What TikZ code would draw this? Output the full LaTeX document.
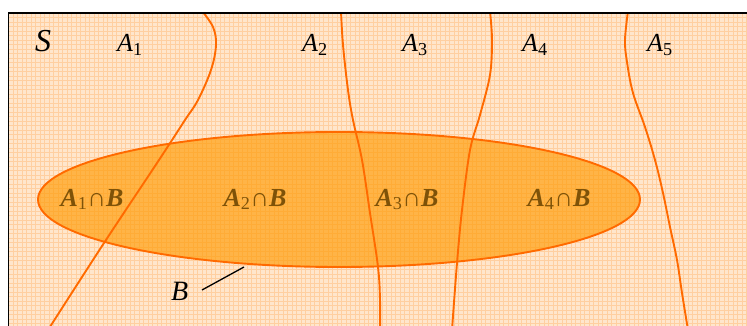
\documentclass[tikz,border=0pt]{standalone}
\usepackage{fontspec}
\setmainfont{Liberation Serif}
\definecolor{bgc}{HTML}{FFE6CC}
\definecolor{gridc}{HTML}{FFCFA0}
\definecolor{curvec}{HTML}{FF6A00}
\definecolor{ellc}{HTML}{FF9A00}
\definecolor{txtc}{HTML}{7E5208}
\tikzset{
  boundary/.style={draw=curvec, line width=1.9pt},
  lbl/.style={font=\fontsize{26}{28}\selectfont\itshape, anchor=base west, inner sep=0pt},
  inlbl/.style={font=\fontsize{26}{28}\selectfont\bfseries\itshape, text=txtc, anchor=base, inner sep=0pt},
}
\begin{document}
\begin{tikzpicture}[x=1pt,y=-1pt]
\useasboundingbox (0,0) rectangle (747,326);
\begin{scope}
\clip (8.5,13) rectangle (760,340);
\fill[bgc] (8.5,13) rectangle (760,340);
\foreach \i in {0,...,168} {\draw[gridc, line width=0.6pt] (8.5+4.5*\i,13) -- (8.5+4.5*\i,340);}
\foreach \j in {0,...,72} {\draw[gridc, line width=0.6pt] (8.5,13+4.5*\j) -- (760,13+4.5*\j);}
\fill[ellc, fill opacity=0.65] (339,199.5) ellipse [x radius=301, y radius=67.5];
\draw[draw=curvec, line width=1.9pt] (339,199.5) ellipse [x radius=301, y radius=67.5];
\draw[boundary] plot[smooth, tension=0.6] coordinates {(202,11) (213,27) (216,45) (211,70) (198,100) (185,120) (159,160) (104,243) (48,330)};
\draw[boundary] plot[smooth, tension=0.6] coordinates {(341,11) (343,45) (348,90) (353,120) (362,160) (370,213) (378,267) (380,300) (380,330)};
\draw[boundary] plot[smooth, tension=0.55] coordinates {(490,11) (492,40) (490,75) (480,115) (470,150) (462,210) (457,263) (452,330)};
\draw[boundary] plot[smooth, tension=0.6] coordinates {(628,11) (625,40) (627,62) (633,93) (645,127) (655,160) (663,193) (670,227) (677,260) (682,293) (688,330)};
\end{scope}
\draw[black, line width=1.6pt] (760,13) -- (8.5,13) -- (8.5,340);
\node[lbl, font=\fontsize{32}{34}\selectfont\itshape] (S) at (35,52) {S};
\node[lbl] (a1) at (117,52) {A\textsubscript{\upshape 1}};
\node[lbl] (a2) at (302,52) {A\textsubscript{\upshape 2}};
\node[lbl] (a3) at (402,52) {A\textsubscript{\upshape 3}};
\node[lbl] (a4) at (522,52) {A\textsubscript{\upshape 4}};
\node[lbl] (a5) at (647,52) {A\textsubscript{\upshape 5}};
\node[inlbl] (i1) at (92,206) {A\textsubscript{\mdseries\upshape 1}∩B};
\node[inlbl] (i2) at (255,206) {A\textsubscript{\mdseries\upshape 2}∩B};
\node[inlbl] (i3) at (407,206) {A\textsubscript{\mdseries\upshape 3}∩B};
\node[inlbl] (i4) at (559,206) {A\textsubscript{\mdseries\upshape 4}∩B};
\node[lbl, font=\fontsize{28}{30}\selectfont\itshape] (B) at (171,300) {B};
\coordinate (bp) at (244,267);
\draw[black, line width=1.3pt] (202,290) -- (bp);
\end{tikzpicture}
\end{document}
